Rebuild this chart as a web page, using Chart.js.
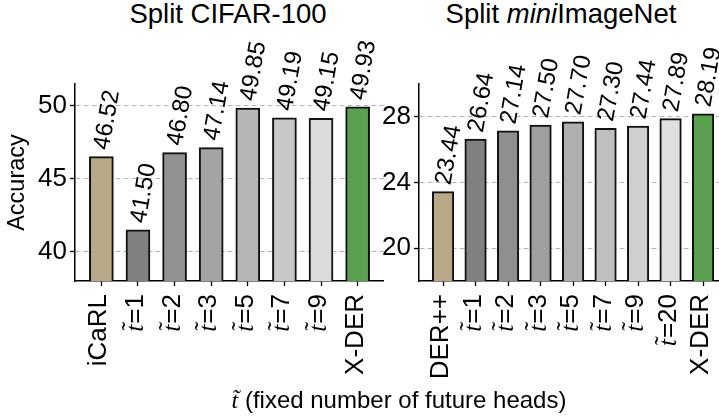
<!DOCTYPE html>
<html>
<head>
<meta charset="utf-8">
<script src="https://cdn.jsdelivr.net/npm/chart.js@4.4.1/dist/chart.umd.min.js"></script>
<style>
  body { margin: 0; background: #fff; width: 719px; height: 418px; overflow: hidden; position: relative;
         font-family: "Liberation Sans", Arial, sans-serif; color: #000; }
  canvas { position: absolute; top: 0; }
  #cifar { left: 0; }
  #mini { left: 340px; }
  .ttl { position: absolute; top: 0px; font-size: 27.5px; line-height: 27px; white-space: nowrap; transform: translateX(-50%); }
  #xlab { position: absolute; top: 388px; left: 399px; font-size: 24px; line-height: 24px; white-space: nowrap; transform: translateX(-50%); }
  .tt { font-family: "Liberation Serif", serif; font-style: italic; }
</style>
</head>
<body>
<div class="ttl" style="left:228px">Split CIFAR-100</div>
<div class="ttl" style="left:561px">Split <i>mini</i>ImageNet</div>
<canvas id="cifar" width="384" height="418"></canvas>
<canvas id="mini" width="379" height="418"></canvas>
<div id="xlab"><span class="tt">t&#x303;</span> (fixed number of future heads)</div>

<script>
// Split CIFAR-100
const cifarLabels = ['iCaRL', 't\u0303=1', 't\u0303=2', 't\u0303=3', 't\u0303=5', 't\u0303=7', 't\u0303=9', 'X-DER'];
const cifarValues = [46.52, 41.50, 46.80, 47.14, 49.85, 49.19, 49.15, 49.93];
const cifarYTicks = [40, 45, 50];

// Split miniImageNet
const miniLabels = ['DER++', 't\u0303=1', 't\u0303=2', 't\u0303=3', 't\u0303=5', 't\u0303=7', 't\u0303=9', 't\u0303=20', 'X-DER'];
const miniValues = [23.44, 26.64, 27.14, 27.50, 27.70, 27.30, 27.44, 27.89, 28.19];
const miniYTicks = [20, 24, 28];

const cifarColors = ['#b8a888', '#808080', '#929292', '#a4a4a4', '#b6b6b6', '#c8c8c8', '#dbdbdb', '#5aa050'];
const miniColors = ['#b8a888', '#808080', '#8f8f8f', '#9f9f9f', '#afafaf', '#bfbfbf', '#cfcfcf', '#dfdfdf', '#5aa050'];

Chart.defaults.font.family = '"Liberation Sans", Arial, sans-serif';
Chart.defaults.color = '#000';

const SANS = '"Liberation Sans", Arial, sans-serif';
const SERIF = '"Liberation Serif", "DejaVu Serif", serif';

// value labels above bars and rotated category labels below the axis
const barText = {
    id: 'barText',
    afterDatasetsDraw(chart, args, opts) {
        const ctx = chart.ctx;
        const meta = chart.getDatasetMeta(0);
        const ang = 80 * Math.PI / 180;
        const vs = 24;
        ctx.save();
        ctx.fillStyle = '#000';
        ctx.font = vs + 'px ' + SANS;
        ctx.textBaseline = 'alphabetic';
        ctx.textAlign = 'left';
        meta.data.forEach(function (bar, i) {
            const txt = opts.values[i].toFixed(2);
            const L = ctx.measureText(txt).width;
            const c = vs * 0.716;
            const ox = bar.x + 4 - (L * Math.cos(ang) - c * Math.sin(ang)) / 2;
            const oy = bar.y - 6;
            ctx.save();
            ctx.translate(ox, oy);
            ctx.rotate(-ang);
            ctx.fillText(txt, 0, 0);
            ctx.restore();
        });

        const xs = chart.scales.x;
        const y0 = chart.chartArea.bottom + 13;
        const fs = 26;
        opts.labels.forEach(function (lab, i) {
            const x = xs.getPixelForValue(i);
            ctx.save();
            ctx.translate(x + 5, y0);
            ctx.rotate(-Math.PI / 2);
            if (lab.startsWith('t\u0303')) {
                const rest = lab.slice(2);
                ctx.font = fs + 'px ' + SANS;
                const wr = ctx.measureText(rest).width;
                ctx.font = 'italic ' + fs + 'px ' + SERIF;
                const wt = ctx.measureText('t').width;
                const start = -(wr + wt + 1);
                ctx.textAlign = 'left';
                ctx.fillText('t', start, 0);
                ctx.font = fs + 'px ' + SERIF;
                ctx.textAlign = 'center';
                ctx.fillText('\u02DC', start + wt / 2 + 2, -4);
                ctx.font = fs + 'px ' + SANS;
                ctx.textAlign = 'left';
                ctx.fillText(rest, start + wt + 1, 0);
            } else {
                ctx.font = fs + 'px ' + SANS;
                ctx.textAlign = 'right';
                ctx.fillText(lab, 0, 0);
            }
            ctx.restore();
        });
        ctx.restore();
    }
};

function makeChart(id, labels, values, colors, yTicks, ymin, ymax, xmin, xmax, barW, axisW, yTitle) {
    const ctx = document.getElementById(id).getContext('2d');
    return new Chart(ctx, {
        type: 'bar',
        data: {
            datasets: [{
                data: values.map(function (v, i) { return {x: i, y: v}; }),
                backgroundColor: colors,
                borderColor: '#111',
                borderWidth: 2,
                borderSkipped: false,
                barThickness: barW
            }]
        },
        options: {
            responsive: false,
            devicePixelRatio: 1,
            animation: false,
            layout: {padding: {top: 84, right: 0, bottom: 0, left: 0}},
            plugins: {
                legend: {display: false},
                tooltip: {enabled: false},
                barText: {labels: labels, values: values}
            },
            scales: {
                x: {
                    type: 'linear',
                    min: xmin,
                    max: xmax,
                    offset: false,
                    afterBuildTicks: function (s) {
                        s.ticks = labels.map(function (l, i) { return {value: i}; });
                    },
                    afterFit: function (s) { s.height = 137; },
                    ticks: {display: false},
                    grid: {offset: false, drawOnChartArea: false, drawTicks: true, tickLength: 5, tickColor: '#000', tickWidth: 1.3},
                    border: {display: true, color: '#000', width: 1.5}
                },
                y: {
                    min: ymin,
                    max: ymax,
                    afterBuildTicks: function (s) {
                        s.ticks = yTicks.map(function (v) { return {value: v}; });
                    },
                    afterFit: function (s) { s.width = axisW; },
                    ticks: {font: {size: 26}, padding: 3, color: '#000'},
                    grid: {color: '#b5b5b5', lineWidth: 1, drawTicks: true, tickLength: 5, tickColor: '#000', tickWidth: 1.3},
                    border: {display: true, color: '#000', width: 1.5, dash: [5, 3]},
                    title: {display: !!yTitle, text: yTitle || '', font: {size: 23.5}, padding: {top: 3, bottom: 0}, color: '#000'}
                }
            }
        },
        plugins: [barText]
    });
}

makeChart('cifar', cifarLabels, cifarValues, cifarColors, cifarYTicks, 38, 51.5, -0.72, 7.72, 24, 75, 'Accuracy');
makeChart('mini', miniLabels, miniValues, miniColors, miniYTicks, 18, 30, -0.74, 8.49, 21.5, 79, '');
</script>
</body>
</html>
